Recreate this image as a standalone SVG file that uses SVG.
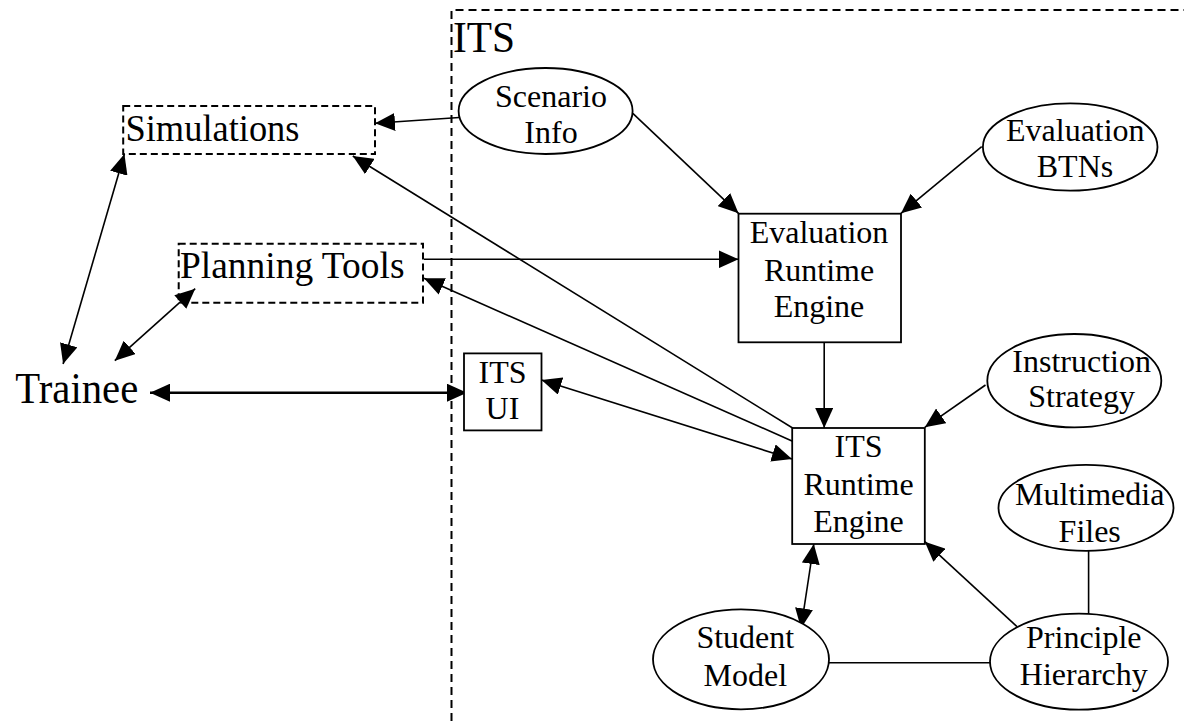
<svg xmlns="http://www.w3.org/2000/svg" width="1184" height="721" viewBox="0 0 1184 721">
<style>
text{font-family:"Liberation Serif","Times New Roman",serif;fill:#000;text-anchor:middle}
text.s{text-anchor:start}
.n{font-size:32px}
.sh{fill:#fff;stroke:#000;stroke-width:1.8}
.dash{fill:none;stroke:#000;stroke-width:2;stroke-dasharray:8,5}
.dbox{fill:none;stroke:#000;stroke-width:2;stroke-dasharray:7,4}
.c{fill:none;stroke:#000;stroke-width:1.6}
.a{marker-end:url(#ah)}
.b{marker-start:url(#ah);marker-end:url(#ah)}
</style>
<defs>
<marker id="ah" viewBox="0 0 20 18" refX="20" refY="9" markerWidth="20" markerHeight="18" markerUnits="userSpaceOnUse" orient="auto-start-reverse">
<path d="M0,0 L20,9 L0,18 z" fill="#000"/>
</marker>
</defs>
<rect width="1184" height="721" fill="#fff"/>
<g id="its-container">
<path class="dash" d="M451.5,721 V10 H1184"/>
<text class="s" x="453" y="52" font-size="44" textLength="62" lengthAdjust="spacingAndGlyphs">ITS</text>
</g>
<g id="connectors">
<line class="c a" x1="463" y1="117.3" x2="375" y2="123.3"/>
<line class="c a" x1="632.8" y1="113.3" x2="738.5" y2="213.3"/>
<line class="c a" x1="981.7" y1="146.7" x2="901" y2="213.3"/>
<line class="c a" x1="424" y1="259.3" x2="738.5" y2="259.3"/>
<line class="c a" x1="793" y1="428.3" x2="352.8" y2="156"/>
<line class="c a" x1="793.7" y1="441.7" x2="424" y2="278.3"/>
<line class="c b" x1="541.5" y1="380" x2="792" y2="459"/>
<line class="c a" x1="824.2" y1="342.3" x2="824.2" y2="428"/>
<line class="c a" x1="985.5" y1="385" x2="924.8" y2="427.3"/>
<line class="c a" x1="1017" y1="626.7" x2="924.8" y2="541.7"/>
<line class="c b" x1="813.8" y1="544" x2="801" y2="628.3"/>
<line class="c" x1="829" y1="662.7" x2="990" y2="662.7"/>
<line class="c" x1="1088.6" y1="550.7" x2="1088.6" y2="614.3"/>
<line class="c b" x1="124.4" y1="154" x2="63.1" y2="364"/>
<line class="c b" x1="195.2" y1="288.7" x2="114.8" y2="360.7"/>
<line class="c b" x1="150" y1="392.7" x2="467" y2="392.7" style="stroke-width:2.4"/>
</g>
<g id="simulations">
<rect class="dbox" x="123.2" y="106" width="251.8" height="48"/>
<text class="s" x="125.5" y="141" font-size="38" textLength="174" lengthAdjust="spacingAndGlyphs">Simulations</text>
</g>
<g id="planning-tools">
<rect class="dbox" x="178.7" y="243.7" width="244.3" height="59"/>
<text class="s" x="180" y="278" font-size="38" textLength="224.5" lengthAdjust="spacingAndGlyphs">Planning Tools</text>
</g>
<g id="trainee">
<text class="s" x="15.3" y="403.3" font-size="44" textLength="123" lengthAdjust="spacingAndGlyphs">Trainee</text>
</g>
<g id="its-ui">
<rect class="sh" x="464" y="353.4" width="77.5" height="77"/>
<text class="n" x="502.5" y="383.3">ITS</text>
<text class="n" x="502.5" y="419.3">UI</text>
</g>
<g id="scenario-info">
<ellipse class="sh" cx="545.6" cy="111" rx="87" ry="43"/>
<text class="n" x="551" y="107">Scenario</text>
<text class="n" x="551" y="143">Info</text>
</g>
<g id="evaluation-btns">
<ellipse class="sh" cx="1070.2" cy="147" rx="87.3" ry="43.7"/>
<text class="n" x="1075.3" y="140.7">Evaluation</text>
<text class="n" x="1075" y="177.3">BTNs</text>
</g>
<g id="evaluation-runtime-engine">
<rect class="sh" x="738.5" y="213.7" width="162.5" height="128.6"/>
<text class="n" x="819" y="243.3">Evaluation</text>
<text class="n" x="819" y="280.7">Runtime</text>
<text class="n" x="819" y="316.7">Engine</text>
</g>
<g id="its-runtime-engine">
<rect class="sh" x="792.2" y="428" width="132.6" height="116"/>
<text class="n" x="858.5" y="457.3">ITS</text>
<text class="n" x="858.5" y="495">Runtime</text>
<text class="n" x="858.5" y="531.7">Engine</text>
</g>
<g id="instruction-strategy">
<ellipse class="sh" cx="1074.3" cy="380.7" rx="87" ry="46.7"/>
<text class="n" x="1081.6" y="371.7">Instruction</text>
<text class="n" x="1081.6" y="407.3">Strategy</text>
</g>
<g id="multimedia-files">
<ellipse class="sh" cx="1086" cy="507.8" rx="87.5" ry="43"/>
<text class="n" x="1089.7" y="505">Multimedia</text>
<text class="n" x="1089.7" y="541.7">Files</text>
</g>
<g id="principle-hierarchy">
<ellipse class="sh" cx="1079" cy="661.7" rx="89" ry="48"/>
<text class="n" x="1083.8" y="648.3">Principle</text>
<text class="n" x="1083.8" y="685">Hierarchy</text>
</g>
<g id="student-model">
<ellipse class="sh" cx="741" cy="659.3" rx="88" ry="50"/>
<text class="n" x="745.3" y="648.3">Student</text>
<text class="n" x="745.3" y="686">Model</text>
</g>
</svg>
